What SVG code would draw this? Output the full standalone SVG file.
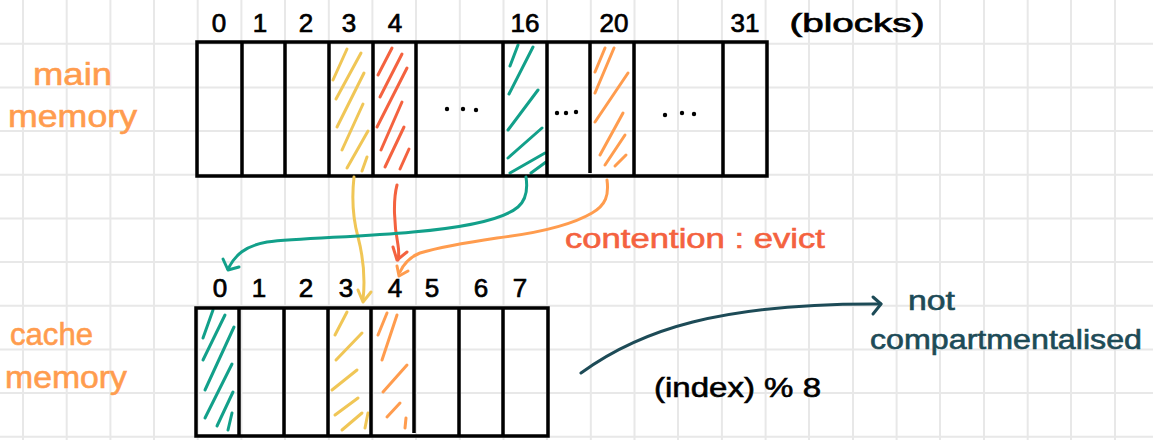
<svg xmlns="http://www.w3.org/2000/svg" width="1153" height="440" viewBox="0 0 1153 440">
  <style>
    .grid { stroke: #e8e8e8; stroke-width: 2; fill: none; }
    .box { fill: none; stroke: #000; stroke-width: 3.5; stroke-linejoin: miter; }
    .div { stroke: #000; stroke-width: 3.5; }
    .hatch { fill: none; stroke-width: 3; stroke-linecap: round; }
    .yellow { stroke: #F0C656; }
    .red { stroke: #F4623F; }
    .teal { stroke: #12A08A; }
    .orange { stroke: #FF9C4E; }
    .conn { fill: none; stroke-width: 3; stroke-linecap: round; stroke-linejoin: round; }
    .num { font-family: "Liberation Sans", Arial, sans-serif; font-size: 26px; fill: #000; stroke: #000; stroke-width: 0.7; text-anchor: middle; }
    .label { font-family: "Liberation Sans", Arial, sans-serif; font-size: 32px; fill: #FF9C4E; stroke: #FF9C4E; stroke-width: 0.6; }
    .note { font-family: "Liberation Sans", Arial, sans-serif; font-size: 27px; stroke-width: 0.6; }
    .dot { fill: #000; }
  </style>

  <rect width="1153" height="440" fill="#ffffff"/>

  <!-- squared paper background -->
  <path class="grid" d="M23,0V440M66.7,0V440M110.4,0V440M154,0V440M197.7,0V440M241.4,0V440M285,0V440M328.8,0V440M372.4,0V440M416,0V440M459.8,0V440M503.5,0V440M547,0V440M590.8,0V440M634.5,0V440M678,0V440M721.9,0V440M765.6,0V440M809,0V440M853,0V440M896.6,0V440M940,0V440M984,0V440M1027.7,0V440M1071,0V440M1115,0V440
    M0,43.7H1153M0,87.4H1153M0,131H1153M0,174.8H1153M0,218.5H1153M0,262H1153M0,305.8H1153M0,349.5H1153M0,393H1153M0,436.8H1153"/>

  <!-- side labels -->
  <g id="label-main-memory">
    <text class="label" x="33" y="85" textLength="79" lengthAdjust="spacingAndGlyphs">main</text>
    <text class="label" x="8" y="127" textLength="129" lengthAdjust="spacingAndGlyphs">memory</text>
  </g>
  <g id="label-cache-memory">
    <text class="label" x="10" y="345" textLength="83" lengthAdjust="spacingAndGlyphs">cache</text>
    <text class="label" x="5" y="388" textLength="122" lengthAdjust="spacingAndGlyphs">memory</text>
  </g>

  <!-- main memory blocks -->
  <g id="main-memory">
    <g id="main-hatch">
      <path class="hatch yellow" d="M333,80L347,49M336,99L361,53M337,127L364,73M342,150L363,104M347,168L368,131M362,171L367,157"/>
      <path class="hatch red" d="M378,75L392,48M380,97L402,54M377,127L407,68M381,150L402,102M385,167L404,127M400,169L409,149"/>
      <path class="hatch teal" d="M510,66L518,45M509,94L533,47M508,130L538,90M508,158L542,128M510,173L545,153M531,173L546,162"/>
      <path class="hatch orange" d="M595,72L605,48M595,93L614,48M595,122L628,73M600,155L623,113M605,165L625,135M615,166L626,155"/>
    </g>
    <rect class="box" x="197" y="42" width="570" height="134"/>
    <path class="div" d="M242,42V176M285,42V176M329,42V176M373,42V176M416,42V176M503,42V176M547,42V176M590,42V173M634,42V176M723,42V176"/>
    <circle class="dot" cx="447" cy="109" r="2.2"/>
    <circle class="dot" cx="463" cy="109" r="2.2"/>
    <circle class="dot" cx="476" cy="110" r="2.2"/>
    <circle class="dot" cx="557" cy="113" r="2.2"/>
    <circle class="dot" cx="566" cy="113" r="2.2"/>
    <circle class="dot" cx="576" cy="112" r="2.2"/>
    <circle class="dot" cx="665" cy="115" r="2.2"/>
    <circle class="dot" cx="682" cy="113" r="2.2"/>
    <circle class="dot" cx="694" cy="114" r="2.2"/>
    <g id="main-indices">
      <text class="num" x="219" y="32">0</text>
      <text class="num" x="260" y="32">1</text>
      <text class="num" x="306" y="32">2</text>
      <text class="num" x="349" y="32">3</text>
      <text class="num" x="395" y="32">4</text>
      <text class="num" x="525" y="32">16</text>
      <text class="num" x="614" y="32">20</text>
      <text class="num" x="745" y="32">31</text>
      <text class="num" x="857" y="32" textLength="135" lengthAdjust="spacingAndGlyphs">(blocks)</text>
    </g>
  </g>

  <!-- cache memory lines -->
  <g id="cache-memory">
    <g id="cache-hatch">
      <path class="hatch teal" d="M203,338L213,310M203,360L225,315M205,390L234,327M205,418L232,364M217,426L233,392M228,430L232,413"/>
      <path class="hatch yellow" d="M335,335L347,312M336,360L362,333M332,390L357,370M335,415L358,398M342,430L362,413M365,428L368,413"/>
      <path class="hatch orange" d="M378,335L387,313M382,360L397,315M383,392L407,365M387,417L400,403M405,428L406,418"/>
    </g>
    <rect class="box" x="196" y="308" width="352" height="128"/>
    <path class="div" d="M239,308V436M284,308V436M328,308V436M371,308V436M414,308V433M459,308V436M503,308V436"/>
    <g id="cache-indices">
      <text class="num" x="220" y="297">0</text>
      <text class="num" x="259" y="297">1</text>
      <text class="num" x="306" y="297">2</text>
      <text class="num" x="346" y="297">3</text>
      <text class="num" x="395" y="297">4</text>
      <text class="num" x="432" y="297">5</text>
      <text class="num" x="481" y="297">6</text>
      <text class="num" x="520" y="297">7</text>
    </g>
  </g>

  <!-- mapping connectors -->
  <g id="connectors">
    <g id="edge-3-to-3">
      <path class="conn yellow" d="M354,177C352,195 352,215 358,237C364,260 365,282 363,300"/>
      <path class="conn yellow" d="M358,290L363,302L371,292"/>
    </g>
    <g id="edge-4-to-4">
      <path class="conn red" d="M397,185C393,200 394,225 398,245C399,251 399,255 398,260"/>
      <path class="conn red" d="M393,247L397,260L407,252"/>
    </g>
    <g id="edge-16-to-0">
      <path class="conn teal" d="M526,177C528,190 526,200 518,207C505,218 470,227 413,232C360,237 300,238 267,242C245,246 235,255 228,269"/>
      <path class="conn teal" d="M223,259L228,270L239,267"/>
    </g>
    <g id="edge-20-to-4">
      <path class="conn orange" d="M607,180C609,195 606,205 592,213C570,226 530,234 497,238C470,242 440,247 420,253C410,257 404,263 400,272"/>
      <path class="conn orange" d="M397,266L399,276L408,271"/>
    </g>
    <g id="edge-note">
      <path class="conn" style="stroke:#1D4B57" d="M581,373C640,330 720,303 881,304"/>
      <path class="conn" style="stroke:#1D4B57" d="M873,297L881,304L873,314"/>
    </g>
  </g>

  <!-- annotations -->
  <g id="note-contention">
    <text class="note" x="565" y="248" fill="#F4623F" stroke="#F4623F" textLength="260" lengthAdjust="spacingAndGlyphs">contention : evict</text>
  </g>
  <g id="note-index">
    <text class="note" x="654" y="397" fill="#000" stroke="#000" textLength="167" lengthAdjust="spacingAndGlyphs">(index) % 8</text>
  </g>
  <g id="note-compartment">
    <text class="note" x="908" y="310" fill="#1D4B57" stroke="#1D4B57" textLength="47" lengthAdjust="spacingAndGlyphs">not</text>
    <text class="note" x="870" y="349" fill="#1D4B57" stroke="#1D4B57" textLength="272" lengthAdjust="spacingAndGlyphs">compartmentalised</text>
  </g>
</svg>
